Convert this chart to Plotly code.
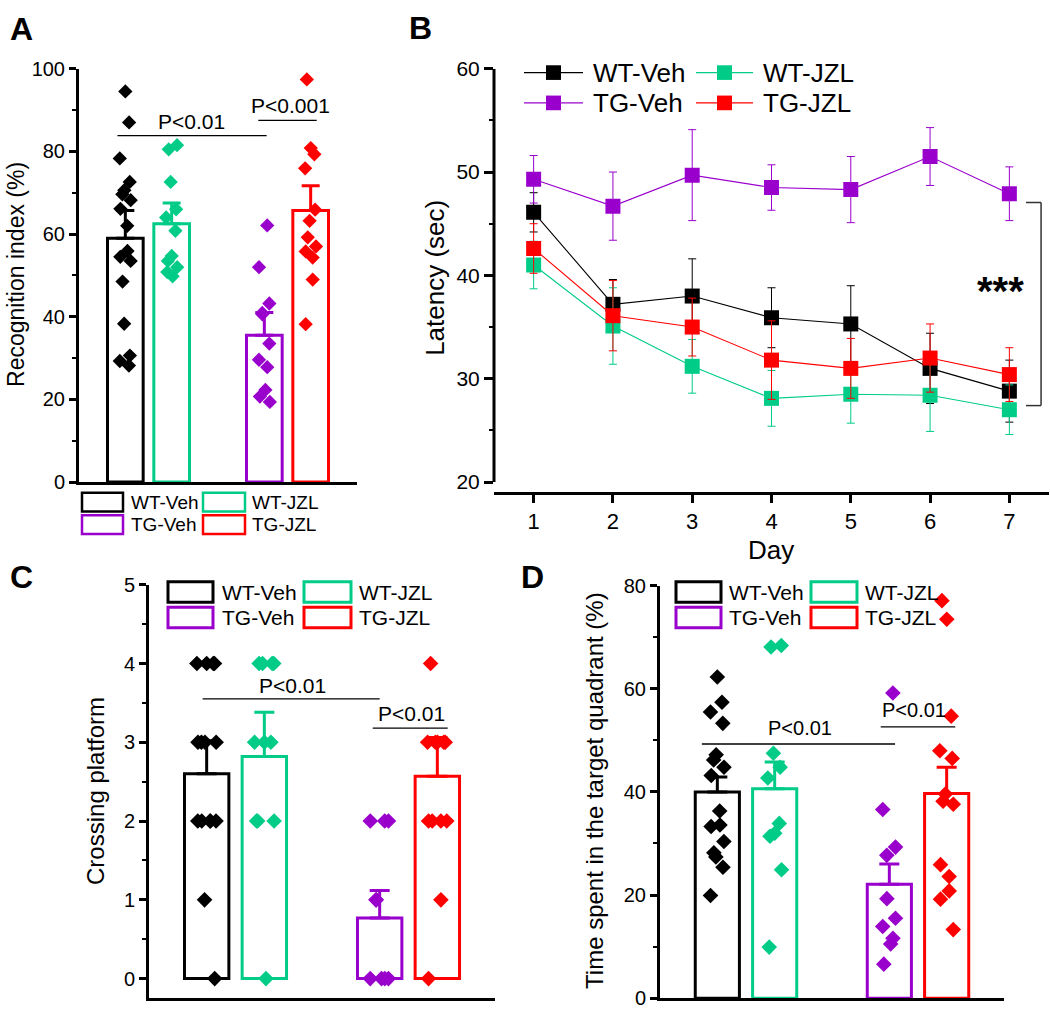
import numpy as np
import plotly.graph_objects as go

# ---------------- data ----------------
groups = ["WT-Veh", "WT-JZL", "TG-Veh", "TG-JZL"]

# Panel A: recognition index (%)
recog_mean = [59.0, 62.5, 35.5, 65.7]
recog_sem = [6.7, 5.0, 5.5, 6.0]
recog_wt_veh = [94.5, 87.0, 78.3, 72.6, 70.6, 69.6, 68.2, 66.1, 62.0, 55.9, 54.5, 53.5, 48.5, 38.3, 30.6, 29.3, 28.2]
recog_wt_jzl = [81.5, 80.5, 72.6, 66.0, 64.0, 60.8, 54.7, 53.5, 52.0, 50.8, 49.8]
recog_tg_veh = [62.1, 52.0, 43.2, 40.9, 40.6, 33.5, 29.6, 27.8, 22.3, 20.7, 19.4]
recog_tg_jzl = [97.4, 80.8, 79.3, 75.9, 65.9, 63.2, 59.2, 57.0, 55.8, 54.3, 49.0, 38.2]

# Panel B: latency (sec) by day
days = [1, 2, 3, 4, 5, 6, 7]
lat_wt_veh = [46.1, 37.2, 38.0, 35.9, 35.3, 31.0, 28.8]
lat_wt_veh_err = [1.9, 2.4, 3.6, 2.9, 3.7, 3.4, 3.0]
lat_wt_jzl = [41.0, 35.1, 31.2, 28.1, 28.5, 28.4, 27.0]
lat_wt_jzl_err = [2.3, 3.7, 2.6, 2.7, 2.8, 3.5, 2.4]
lat_tg_veh = [49.3, 46.7, 49.7, 48.5, 48.3, 51.5, 47.9]
lat_tg_veh_err = [2.3, 3.3, 4.4, 2.2, 3.2, 2.8, 2.6]
lat_tg_jzl = [42.6, 36.1, 35.0, 31.8, 31.0, 32.0, 30.4]
lat_tg_jzl_err = [2.4, 3.4, 2.8, 3.8, 2.9, 3.3, 2.6]

# Panel C: crossing platform
cross_mean = [2.60, 2.82, 0.77, 2.57]
cross_sem = [0.42, 0.56, 0.35, 0.49]
cross_wt_veh = [4, 4, 4, 4, 3, 3, 3, 3, 2, 2, 2, 2, 2, 1, 0]
cross_wt_jzl = [4, 4, 4, 4, 3, 3, 3, 2, 2, 2, 0]
cross_tg_veh = [2, 2, 2, 1, 1, 0, 0, 0, 0]
cross_tg_jzl = [4, 3, 3, 3, 3, 3, 2, 2, 2, 2, 1, 0]

# Panel D: time in target quadrant (%)
quad_mean = [40.0, 40.6, 22.1, 39.7]
quad_sem = [2.9, 5.2, 3.9, 5.1]
quad_wt_veh = [62.3, 57.4, 55.5, 53.3, 47.2, 46.2, 44.8, 43.2, 36.3, 33.6, 33.3, 30.4, 28.2, 27.4, 25.4, 19.9]
quad_wt_jzl = [68.4, 68.1, 47.5, 44.8, 42.7, 33.9, 32.0, 31.4, 24.9, 9.9]
quad_tg_veh = [59.2, 36.6, 29.3, 27.7, 19.3, 15.5, 13.9, 11.6, 10.5, 6.6]
quad_tg_jzl = [77.1, 73.5, 54.7, 48.0, 46.5, 39.6, 38.2, 37.6, 25.9, 23.6, 20.8, 19.2, 13.3]

# ---------------- style ----------------
FONT = "Liberation Sans, Arial, sans-serif"
BLACK, GREEN, PURPLE, RED = "#000000", "#00CC88", "#9900CC", "#FF0000"
colors = [BLACK, GREEN, PURPLE, RED]
bar_pos = [1, 2, 4, 5]
W, H = 1050, 1016


def px(x):
    return x / W


def py(y):
    return 1 - y / H


fig = go.Figure()


def add_bar_panel(xa, ya, means, sems, points, msize, jit, capw):
    for i in range(4):
        fig.add_trace(go.Bar(
            x=[bar_pos[i]], y=[means[i]], width=0.77,
            marker=dict(color="rgba(255,255,255,0)", line=dict(color=colors[i], width=3)),
            error_y=dict(type="data", symmetric=False, array=[sems[i]], arrayminus=[0],
                         color=colors[i], thickness=3, width=capw),
            xaxis=xa, yaxis=ya, showlegend=False, hoverinfo="skip"))
    for i in range(4):
        vals = points[i]
        n = len(vals)
        offs = jit * np.sin(np.arange(n) * 2.39996 + i * 1.3)
        fig.add_trace(go.Scatter(
            x=bar_pos[i] + offs, y=vals, mode="markers",
            marker=dict(symbol="diamond", size=msize, color=colors[i], line=dict(width=0)),
            xaxis=xa, yaxis=ya, showlegend=False))


add_bar_panel("x", "y", recog_mean, recog_sem,
              [recog_wt_veh, recog_wt_jzl, recog_tg_veh, recog_tg_jzl], 11, 0.12, 9)
add_bar_panel("x3", "y3", cross_mean, cross_sem,
              [cross_wt_veh, cross_wt_jzl, cross_tg_veh, cross_tg_jzl], 12, 0.17, 10)
add_bar_panel("x4", "y4", quad_mean, quad_sem,
              [quad_wt_veh, quad_wt_jzl, quad_tg_veh, quad_tg_jzl], 12, 0.12, 10)

lat_vals = [lat_wt_veh, lat_wt_jzl, lat_tg_veh, lat_tg_jzl]
lat_errs = [lat_wt_veh_err, lat_wt_jzl_err, lat_tg_veh_err, lat_tg_jzl_err]
for i in range(4):
    fig.add_trace(go.Scatter(
        x=days, y=lat_vals[i], mode="lines+markers",
        line=dict(color=colors[i], width=1.1),
        marker=dict(symbol="square", size=15, color=colors[i], line=dict(width=0)),
        error_y=dict(type="data", array=lat_errs[i], color=colors[i], thickness=1, width=4),
        xaxis="x2", yaxis="y2", showlegend=False))

# ---------------- axes ----------------
def yaxis(dom, rng, dtick, tick0, minor, fs, anchor, showline=True, ticklen=7):
    return dict(domain=dom, range=rng, anchor=anchor, showline=showline, linewidth=3,
                linecolor="black", ticks="outside", ticklen=ticklen, tickwidth=3,
                tickcolor="black", dtick=dtick, tick0=tick0, showgrid=False, zeroline=False,
                tickfont=dict(family=FONT, size=fs, color="black"),
                minor=dict(dtick=minor, ticks="outside", ticklen=4, tickwidth=2,
                           tickcolor="black", showgrid=False))


def xaxis_plain(dom, anchor):
    return dict(domain=dom, range=[0, 6], anchor=anchor, showline=True, linewidth=3,
                linecolor="black", ticks="", showticklabels=False, showgrid=False,
                zeroline=False)


fig.update_layout(
    width=W, height=H, margin=dict(l=0, r=0, t=0, b=0), autosize=False,
    paper_bgcolor="white", plot_bgcolor="white", barmode="overlay",
    font=dict(family=FONT, color="black"),
    xaxis=xaxis_plain([px(79), px(357)], "y"),
    yaxis=yaxis([py(481), py(58)], [0, 100], 20, 0, 10, 20, "x"),
    xaxis2=dict(domain=[px(494), px(1049)], range=[0.5, 7.5], anchor="y2", showline=True,
                linewidth=3, linecolor="black", ticks="outside", ticklen=8, tickwidth=3,
                tickcolor="black", tickvals=days, showgrid=False, zeroline=False,
                tickfont=dict(family=FONT, size=22, color="black")),
    yaxis2=yaxis([py(491), py(58)], [19.05, 60], 10, 20, 5, 21, "x2", showline=False, ticklen=9),
    xaxis3=xaxis_plain([px(149), px(495)], "y3"),
    yaxis3=yaxis([py(1009), py(586)], [-0.248, 5], 1, 0, 0.5, 20, "x3"),
    xaxis4=xaxis_plain([px(660), px(1004)], "y4"),
    yaxis4=yaxis([py(1009), py(587)], [0, 80], 20, 0, 10, 20, "x4"),
)

shapes = []
annotations = []

# B: y axis line stops at 20 (gap to x axis)
shapes.append(dict(type="line", xref="x2 domain", yref="y2", x0=0, x1=0, y0=20, y1=60,
                   line=dict(color="black", width=3)))


def sig(xref, yref, x0, x1, y, text, tx, ty, fs=21):
    shapes.append(dict(type="line", xref=xref, yref=yref, x0=x0, x1=x1, y0=y, y1=y,
                       line=dict(color="black", width=1.3)))
    annotations.append(dict(xref=xref, yref=yref, x=tx, y=ty, text=text, showarrow=False,
                            xanchor="center", yanchor="middle",
                            font=dict(family=FONT, size=fs, color="black")))


sig("x", "y", 0.83, 4.05, 83.8, "P<0.01", 2.42, 87.2)
sig("x", "y", 3.87, 5.13, 87.5, "P<0.001", 4.56, 91.0)
sig("x3", "y3", 0.93, 4.0, 3.55, "P<0.01", 2.48, 3.72)
sig("x3", "y3", 3.88, 5.18, 3.18, "P<0.01", 4.56, 3.37)
sig("x4", "y4", 0.73, 4.1, 49.3, "P<0.01", 2.45, 52.4, 20)
sig("x4", "y4", 3.85, 5.15, 52.6, "P<0.01", 4.43, 55.8, 20)

# B bracket and ***
for (x0, x1, y0, y1) in [(7.40, 7.40, 47.05, 27.4), (7.21, 7.40, 47.05, 47.05), (7.21, 7.40, 27.4, 27.4)]:
    shapes.append(dict(type="line", xref="x2", yref="y2", x0=x0, x1=x1, y0=y0, y1=y1,
                       line=dict(color="#333333", width=1.5)))
annotations.append(dict(xref="x2", yref="y2", x=6.89, y=38.5, text="<b>***</b>", showarrow=False,
                        xanchor="center", yanchor="middle",
                        font=dict(family=FONT, size=40, color="black")))


def txt(x, y, text, fs, anchor="left", bold=False, angle=0):
    annotations.append(dict(xref="paper", yref="paper", x=px(x), y=py(y),
                            text=("<b>%s</b>" % text) if bold else text, showarrow=False,
                            xanchor=anchor, yanchor="middle", textangle=angle,
                            font=dict(family=FONT, size=fs, color="black")))


# panel letters
txt(21, 17, "A", 32, "center", True)
txt(420, 16, "B", 32, "center", True)
txt(21, 578, "C", 32, "center", True)
txt(532, 578, "D", 32, "center", True)

# axis titles
txt(16, 269, "Recognition index (%)", 23, "center", angle=-90)
txt(435, 272, "Latency (sec)", 26, "center", angle=-90)
txt(771, 550, "Day", 26, "center")
txt(96, 797, "Crossing platform", 24, "center", angle=-90)
txt(595, 797, "Time spent in the target quadrant (%)", 24, "center", angle=-90)


# box legends (A, C, D)
def box_legend(cols_x, text_x, rows_y, fs, lw):
    k = 0
    for r in range(2):
        for c in range(2):
            x0, x1 = cols_x[c]
            y0, y1 = rows_y[r]
            shapes.append(dict(type="rect", xref="paper", yref="paper",
                               x0=px(x0), x1=px(x1), y0=py(y1), y1=py(y0),
                               line=dict(color=colors[k], width=lw), fillcolor="rgba(0,0,0,0)"))
            txt(text_x[c], (y0 + y1) / 2, groups[k], fs)
            k += 1


box_legend([(82, 123), (203, 245)], [129, 250], [(492, 511), (515, 534)], 19, 2.5)
box_legend([(168, 213), (304, 351)], [220, 357], [(583, 604), (609, 630)], 21, 3)
box_legend([(676, 721), (811, 857)], [727, 863], [(583, 604), (609, 630)], 21, 3)

# B line legend
k = 0
for r, yy in enumerate([62, 93]):
    for c, (lx0, lx1, tx) in enumerate([(524, 583, 591), (696, 753, 761)]):
        col = colors[k]
        shapes.append(dict(type="line", xref="paper", yref="paper", x0=px(lx0), x1=px(lx1),
                           y0=py(yy), y1=py(yy), line=dict(color=col, width=1.1)))
        cx = (lx0 + lx1) / 2
        shapes.append(dict(type="rect", xref="paper", yref="paper", x0=px(cx - 7.5), x1=px(cx + 7.5),
                           y0=py(yy + 7.5), y1=py(yy - 7.5), line=dict(width=0), fillcolor=col))
        txt(tx, yy, groups[k], 26)
        k += 1

fig.update_layout(shapes=shapes, annotations=annotations)
fig.write_html("out.html", config={"displayModeBar": False},
               post_script="document.body.style.margin='0';")
